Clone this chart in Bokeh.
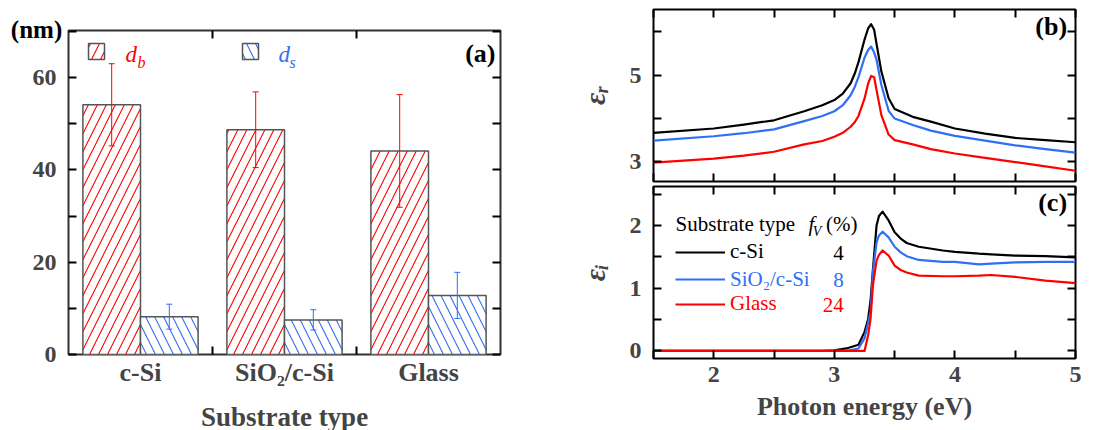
import math
from bokeh.plotting import figure
from bokeh.models import (Range1d, LinearAxis, FixedTicker, ColumnDataSource, Whisker,
                          TeeHead, Label, Legend, LegendItem)
from bokeh.transform import dodge
from bokeh.layouts import row, column
from bokeh.embed import file_html
from bokeh.resources import INLINE

FONT = "Liberation Serif"
BLUE = "#2F6FF5"

# ---------------- data: panel (a) ----------------
substrates = ["c-Si", "SiO\u2082/c-Si", "Glass"]
d_b = [54.1, 48.7, 44.1]
d_b_err = [8.9, 8.2, 12.2]
d_s = [8.2, 7.5, 12.8]
d_s_err = [2.7, 2.2, 5.0]

# ---------------- data: panel (b) ----------------
energy_r = [1.5, 2.0, 2.25, 2.5, 2.75, 2.9, 3.0, 3.07, 3.135, 3.17, 3.2, 3.25, 3.28, 3.305,
            3.33, 3.35, 3.39, 3.45, 3.5, 3.65, 3.8, 4.0, 4.25, 4.5, 4.75, 5.0]
eps_r_csi = [3.66, 3.76, 3.85, 3.95, 4.16, 4.30, 4.42, 4.57, 4.81, 5.04, 5.30, 5.82, 6.08,
             6.18, 6.05, 5.72, 5.08, 4.46, 4.21, 4.03, 3.92, 3.76, 3.64, 3.54, 3.49, 3.44]
eps_r_sio2 = [3.48, 3.58, 3.65, 3.74, 3.93, 4.05, 4.16, 4.30, 4.53, 4.73, 4.95, 5.40, 5.58,
              5.66, 5.52, 5.35, 4.77, 4.17, 3.99, 3.84, 3.71, 3.59, 3.48, 3.37, 3.28, 3.20]
eps_r_glass = [2.97, 3.06, 3.13, 3.22, 3.39, 3.47, 3.57, 3.66, 3.80, 3.91, 4.05, 4.45, 4.80,
               4.98, 4.95, 4.65, 4.07, 3.62, 3.49, 3.39, 3.28, 3.18, 3.08, 2.98, 2.88, 2.78]

# ---------------- data: panel (c) ----------------
energy_i = [1.5, 2.9, 3.0, 3.1, 3.2, 3.25, 3.28, 3.3, 3.32, 3.35, 3.37, 3.4, 3.45, 3.5,
            3.55, 3.6, 3.7, 3.9, 4.0, 4.2, 4.3, 4.5, 4.75, 5.0]
eps_i_csi = [0, 0, 0.01, 0.04, 0.10, 0.30, 0.51, 0.80, 1.30, 2.00, 2.15, 2.22, 2.08, 1.89,
             1.79, 1.72, 1.66, 1.60, 1.58, 1.55, 1.54, 1.52, 1.51, 1.49]
eps_i_sio2 = [0, 0, 0, 0, 0.04, 0.20, 0.45, 0.62, 1.26, 1.73, 1.84, 1.90, 1.81, 1.66,
              1.57, 1.51, 1.45, 1.42, 1.42, 1.38, 1.39, 1.41, 1.42, 1.42]
eps_i_glass = [0, 0, 0, 0, 0, 0, 0.25, 0.51, 1.05, 1.44, 1.53, 1.60, 1.52, 1.36,
               1.29, 1.25, 1.20, 1.19, 1.19, 1.20, 1.21, 1.18, 1.12, 1.08]

series_names = ["c-Si", "SiO\u2082/c-Si", "Glass"]
f_v = [4, 8, 24]
series_colors = ["black", BLUE, "red"]


def make_axis(ticks, minor, labels=None, size="24px", standoff=10, tick_len=8,
              major_len=None, axis_label=None):
    ax = LinearAxis(ticker=FixedTicker(ticks=ticks, minor_ticks=minor))
    ax.axis_line_color = None
    ax.major_tick_in = tick_len if major_len is None else major_len
    ax.major_tick_out = 0
    ax.minor_tick_in = tick_len
    ax.minor_tick_out = 0
    ax.major_tick_line_width = 2
    ax.minor_tick_line_width = 2
    ax.major_tick_line_color = "black"
    ax.minor_tick_line_color = "black"
    ax.major_label_text_font = FONT
    ax.major_label_text_font_style = "bold"
    ax.major_label_text_font_size = size
    ax.major_label_standoff = standoff
    if labels is not None:
        ax.major_label_overrides = labels
    if axis_label is not None:
        ax.axis_label = axis_label
        ax.axis_label_text_font = FONT
        ax.axis_label_text_font_style = "bold"
        ax.axis_label_text_font_size = "26px"
    return ax


def blank_axis(ticks, minor, major_len=None):
    return make_axis(ticks, minor, labels={t: "" for t in ticks}, size="1px",
                     standoff=0, major_len=major_len)


def lab(p, x, y, text, size="26px", style="bold", color="black", align="left",
        baseline="middle", angle=0.0, place=None):
    l = Label(x=x, y=y, text=text, text_font=FONT, text_font_style=style,
              text_font_size=size, text_color=color, text_align=align,
              text_baseline=baseline, angle=angle)
    if place is None:
        p.add_layout(l)
    else:
        p.add_layout(l, place)


# ================= panel (a) =================
p1 = figure(frame_width=432, frame_height=324, x_range=Range1d(0, 3), y_range=Range1d(0, 70.2),
            output_backend="svg", toolbar_location=None, x_axis_location=None,
            y_axis_location=None, min_border_left=68, min_border_right=38,
            min_border_top=30, min_border_bottom=68)
p1.xgrid.visible = False
p1.ygrid.visible = False
p1.outline_line_color = "#333333"
p1.outline_line_width = 2

pos = [i + 0.5 for i in range(len(substrates))]
bounds = [i + 1.0 for i in range(len(substrates) - 1)]
src = ColumnDataSource(dict(
    pos=pos, db=d_b, ds=d_s,
    db_hi=[v + e for v, e in zip(d_b, d_b_err)], db_lo=[v - e for v, e in zip(d_b, d_b_err)],
    ds_hi=[v + e for v, e in zip(d_s, d_s_err)], ds_lo=[v - e for v, e in zip(d_s, d_s_err)],
))

rb = p1.vbar(x=dodge("pos", -0.2), top="db", width=0.4, source=src, fill_color="white",
             line_color="#555555", line_width=1.5, hatch_pattern="/", hatch_color="red",
             hatch_scale=18, hatch_weight=1.1)
rs = p1.vbar(x=dodge("pos", 0.2), top="ds", width=0.4, source=src, fill_color="white",
             line_color="#555555", line_width=1.5, hatch_pattern="\\", hatch_color=BLUE,
             hatch_scale=18, hatch_weight=1.1)

wb = Whisker(source=src, base=dodge("pos", -0.2), upper="db_hi", lower="db_lo",
             line_color="red", line_width=1,
             upper_head=TeeHead(size=6, line_color="red", line_width=1),
             lower_head=TeeHead(size=6, line_color="red", line_width=1), level="overlay")
ws = Whisker(source=src, base=dodge("pos", 0.2), upper="ds_hi", lower="ds_lo",
             line_color=BLUE, line_width=1,
             upper_head=TeeHead(size=6, line_color=BLUE, line_width=1),
             lower_head=TeeHead(size=6, line_color=BLUE, line_width=1), level="overlay")
p1.add_layout(wb)
p1.add_layout(ws)

bax = make_axis(pos, bounds, labels=dict(zip(pos, substrates)), size="26px",
                standoff=3, major_len=0, axis_label="Substrate type")
bax.axis_label_text_font_size = "27px"
bax.axis_label_standoff = 12
p1.add_layout(bax, "below")
p1.add_layout(make_axis([0, 20, 40, 60], [10, 30, 50, 70], standoff=12), "left")
p1.add_layout(blank_axis(pos, bounds, major_len=0), "above")
p1.add_layout(blank_axis([0, 20, 40, 60], [10, 30, 50, 70]), "right")

for r, xloc in ((rb, 18), (rs, 172)):
    p1.add_layout(Legend(items=[LegendItem(label="", renderers=[r])], location=(xloc, 293),
                         glyph_width=20, glyph_height=20, padding=0, margin=0, spacing=0,
                         label_standoff=0, border_line_color=None, background_fill_alpha=0,
                         label_text_font_size="1px", label_height=20, label_width=0))

lab(p1, 0.396, 65.0, "d", size="23px", style="italic", color="red")
lab(p1, 0.479, 63.2, "b", size="16px", style="italic", color="red")
lab(p1, 1.458, 65.0, "d", size="23px", style="italic", color=BLUE)
lab(p1, 1.535, 63.2, "s", size="16px", style="italic", color=BLUE)
lab(p1, 2.965, 65.3, "(a)", align="right")
lab(p1, -0.222, 70.4, "(nm)", size="25px", align="center", place="above")

# ================= panel (b) =================
xt_major = [2, 3, 4, 5]
xt_minor = [1.5, 2.5, 3.5, 4.5]

p2 = figure(frame_width=422, frame_height=172, x_range=Range1d(1.5, 5.0),
            y_range=Range1d(2.53, 6.52), output_backend="svg", toolbar_location=None,
            x_axis_location=None, y_axis_location=None, min_border_left=115,
            min_border_right=11, min_border_top=9, min_border_bottom=3)
p2.xgrid.visible = False
p2.ygrid.visible = False
p2.outline_line_color = "black"
p2.outline_line_width = 2

for ys, c in ((eps_r_csi, "black"), (eps_r_sio2, BLUE), (eps_r_glass, "red")):
    p2.line(energy_r, ys, line_color=c, line_width=2.2, line_join="round")

ax = make_axis([3, 5], [4, 6], standoff=12, axis_label="\u03b5\u1d63")
ax.axis_label_text_font_style = "bold italic"
ax.axis_label_text_font_size = "30px"
ax.axis_label_standoff = 16
p2.add_layout(ax, "left")
p2.add_layout(blank_axis(xt_major, xt_minor), "below")
p2.add_layout(blank_axis(xt_major, xt_minor), "above")
p2.add_layout(blank_axis([3, 5], [4, 6]), "right")
lab(p2, 4.93, 6.12, "(b)", align="right")

# ================= panel (c) =================
p3 = figure(frame_width=422, frame_height=172, x_range=Range1d(1.5, 5.0),
            y_range=Range1d(-0.12, 2.62), output_backend="svg", toolbar_location=None,
            x_axis_location=None, y_axis_location=None, min_border_left=115,
            min_border_right=11, min_border_top=2, min_border_bottom=64)
p3.xgrid.visible = False
p3.ygrid.visible = False
p3.outline_line_color = "black"
p3.outline_line_width = 2

rend = []
for ys, c in ((eps_i_csi, "black"), (eps_i_sio2, BLUE), (eps_i_glass, "red")):
    rend.append(p3.line(energy_i, ys, line_color=c, line_width=2.2, line_join="round"))

ax = make_axis([0, 1, 2], [0.5, 1.5, 2.5], standoff=12, axis_label="\u03b5\u1d62")
ax.axis_label_text_font_style = "bold italic"
ax.axis_label_text_font_size = "30px"
ax.axis_label_standoff = 16
p3.add_layout(ax, "left")
bx = make_axis(xt_major, xt_minor, standoff=8, axis_label="Photon energy (eV)")
bx.axis_label_standoff = 7
p3.add_layout(bx, "below")
p3.add_layout(blank_axis(xt_major, xt_minor), "above")
p3.add_layout(blank_axis([0, 1, 2], [0.5, 1.5, 2.5]), "right")
lab(p3, 4.93, 2.37, "(c)", align="right")

row_y = [1.559, 1.125, 0.738]
leg_y = [93.6, 66.3, 42.0]
for i in range(3):
    p3.add_layout(Legend(items=[LegendItem(label=series_names[i], renderers=[rend[i]])],
                         location=(22, leg_y[i]), glyph_width=50, glyph_height=20,
                         padding=0, margin=0, spacing=0, label_standoff=5,
                         border_line_color=None, background_fill_alpha=0,
                         label_text_font=FONT, label_text_font_size="21px",
                         label_text_color=series_colors[i]))
    lab(p3, 3.077, row_y[i], str(f_v[i]), size="21px", style="normal",
        color=series_colors[i], align="right")

lab(p3, 1.683, 2.03, "Substrate type", size="21px", style="normal")
lab(p3, 2.786, 2.03, "f", size="21px", style="italic")
lab(p3, 2.82, 1.90, "V", size="14px", style="italic")
lab(p3, 2.93, 2.03, "(%)", size="21px", style="normal")

layout = row(p1, column(p2, p3))
open("out.html", "w").write(file_html(layout, INLINE))
